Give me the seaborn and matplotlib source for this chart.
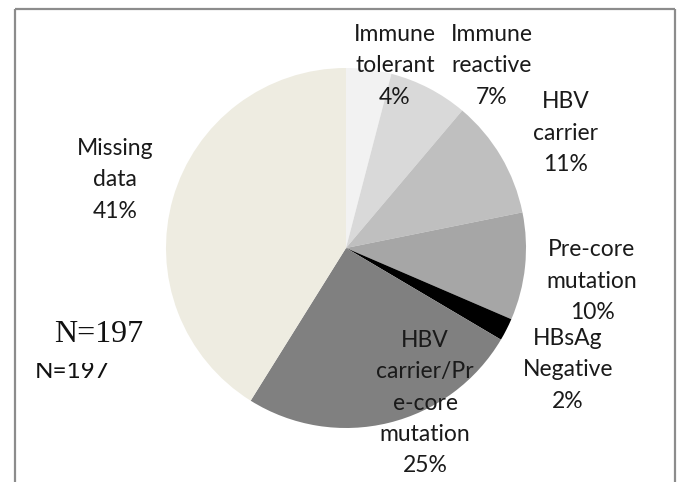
import matplotlib
matplotlib.use("Agg")
import matplotlib.pyplot as plt
import seaborn as sns
from matplotlib.transforms import Bbox

# data: patients by phase (N=197)
categories = ["Immune tolerant", "Immune reactive", "HBV carrier", "Pre-core mutation",
              "HBsAg Negative", "HBV carrier/Pre-core mutation", "Missing data"]
counts = [8, 14, 21, 19, 4, 50, 81]
label_names = ["Immune\ntolerant", "Immune\nreactive", "HBV\ncarrier", "Pre-core\nmutation",
               "HBsAg\nNegative", "HBV\ncarrier/Pr\ne-core\nmutation", "Missing\ndata"]
colors = ["#f2f2f2", "#d9d9d9", "#bfbfbf", "#a6a6a6", "#000000", "#808080", "#eeece1"]
n_text = "N=197"

# label positions in pixels (x, y from top)
label_pos = [(395, 66), (492, 66), (566, 133), (592, 281), (568, 370), (425, 403), (115, 180)]

sns.set_theme(style="white")
plt.rcParams["font.family"] = ["Lato", "DejaVu Sans"]

W, H = 682, 482
fig = plt.figure(figsize=(W / 100, H / 100), dpi=100)
ax = fig.add_axes([0, 0, 1, 1])

ax.pie(counts, colors=colors, startangle=90, counterclock=False,
       center=(346, H - 248), radius=180, wedgeprops=dict(linewidth=0))
ax.set_xlim(0, W)
ax.set_ylim(0, H)
ax.set_aspect("auto")
ax.axis("off")

total = sum(counts)
for name, c, (x, y) in zip(label_names, counts, label_pos):
    ax.text(x, H - y, f"{name}\n{round(100 * c / total)}%", ha="center", va="center",
            multialignment="center", fontsize=16.5, linespacing=1.6, color="#1a1a1a")

# N annotations
ax.text(99, H - 334, n_text, family="Liberation Serif", fontsize=23,
        ha="center", va="center", color="#111111")
t = ax.text(35, H - 378, n_text, fontsize=17.5, ha="left", va="baseline", color="#111111")
t.set_clip_on(True)
t.set_clip_box(Bbox([[0, 0], [W, H - 363]]))

# outer frame (no bottom edge)
frame_kw = dict(color="#8c8c8c", lw=1.6, clip_on=False, solid_capstyle="butt")
ax.plot([15, 15], [0, H - 9], **frame_kw)
ax.plot([15, 675], [H - 9, H - 9], **frame_kw)
ax.plot([675, 675], [0, H - 9], **frame_kw)

fig.savefig("out.png", dpi=100)
